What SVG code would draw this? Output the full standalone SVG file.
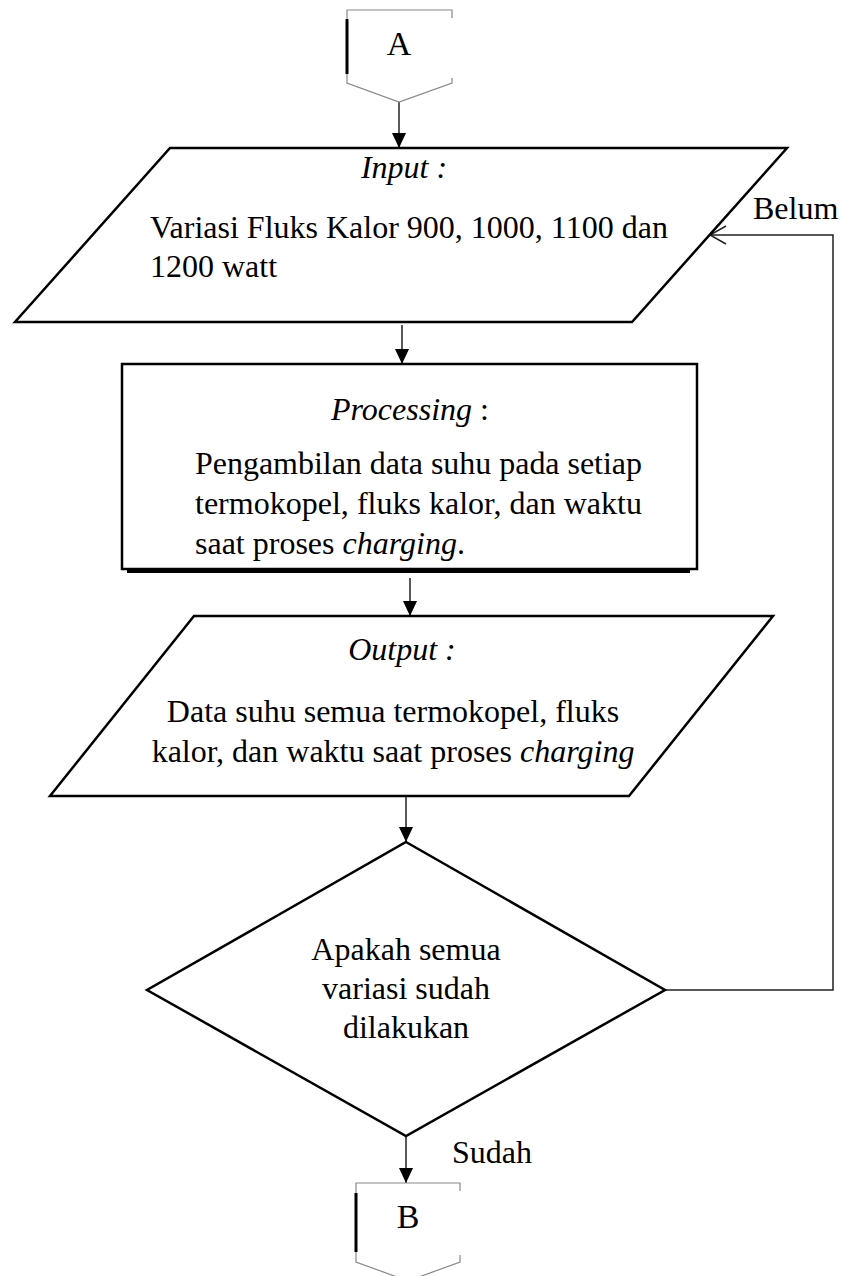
<svg xmlns="http://www.w3.org/2000/svg" width="843" height="1276" viewBox="0 0 843 1276">
<defs>
<style>
.t{font-family:"Liberation Serif","Times New Roman",serif;font-size:32px;fill:#000}
.i{font-style:italic}
.shape{fill:#fff;stroke:#000;stroke-width:2.5}
.conn{fill:none;stroke:#222;stroke-width:1.5}
.gray{fill:none;stroke:#888;stroke-width:1.2}
.thick{stroke:#000;stroke-width:3}
</style>
<marker id="arr" viewBox="0 0 15 14" refX="15" refY="7" markerWidth="15" markerHeight="14" markerUnits="userSpaceOnUse" orient="auto">
<path d="M0,0 L15,7 L0,14 Z" fill="#000"/>
</marker>
<marker id="open" viewBox="0 0 18 20" refX="17" refY="10" markerWidth="18" markerHeight="20" markerUnits="userSpaceOnUse" orient="auto">
<path d="M1,1 L17,10 L1,19" fill="none" stroke="#222" stroke-width="1.5"/>
</marker>
</defs>
<rect width="843" height="1276" fill="#fff"/>

<g id="connectors">
<line class="conn" x1="399" y1="102" x2="399" y2="148" marker-end="url(#arr)"/>
<line class="conn" x1="402" y1="325" x2="402" y2="364" marker-end="url(#arr)"/>
<line class="conn" x1="410" y1="578" x2="410" y2="616" marker-end="url(#arr)"/>
<line class="conn" x1="406" y1="797" x2="406" y2="842" marker-end="url(#arr)"/>
<line class="conn" x1="406" y1="1136" x2="406" y2="1183" marker-end="url(#arr)"/>
<polyline class="conn" points="665,990 833,990 833,235 710,235" marker-end="url(#open)"/>
<text class="t" x="753" y="219">Belum</text>
<text class="t" x="452" y="1163">Sudah</text>
</g>

<g id="nodeA">
<polyline class="gray" points="452,18 452,10 347,10 347,83 399,102 452,83 452,78"/>
<line class="thick" x1="347" y1="19" x2="347" y2="74"/>
<text class="t" x="399" y="55" text-anchor="middle" style="font-size:34px">A</text>
</g>

<g id="input">
<polygon class="shape" points="170,148 787,148 632,322 15,322"/>
<text class="t i" x="404" y="178" text-anchor="middle">Input :</text>
<text class="t" x="150" y="238">Variasi Fluks Kalor 900, 1000, 1100 dan</text>
<text class="t" x="150" y="277">1200 watt</text>
</g>

<g id="process">
<rect class="shape" x="122" y="364" width="575" height="205"/>
<line x1="127" y1="571" x2="690" y2="571" stroke="#000" stroke-width="4"/>
<text class="t" x="410" y="420" text-anchor="middle"><tspan class="i">Processing</tspan> :</text>
<text class="t" x="195" y="474" textLength="447" lengthAdjust="spacing">Pengambilan data suhu pada setiap</text>
<text class="t" x="195" y="514" textLength="447" lengthAdjust="spacing">termokopel, fluks kalor, dan waktu</text>
<text class="t" x="195" y="554">saat proses <tspan class="i">charging</tspan>.</text>
</g>

<g id="output">
<polygon class="shape" points="194,616 773,616 629,796 50,796"/>
<text class="t i" x="402" y="660" text-anchor="middle">Output :</text>
<text class="t" x="393" y="722" text-anchor="middle">Data suhu semua termokopel, fluks</text>
<text class="t" x="393" y="762" text-anchor="middle">kalor, dan waktu saat proses <tspan class="i">charging</tspan></text>
</g>

<g id="decision">
<polygon class="shape" points="406,842 665,990 406,1136 147,990"/>
<text class="t" x="406" y="960" text-anchor="middle">Apakah semua</text>
<text class="t" x="406" y="999" text-anchor="middle">variasi sudah</text>
<text class="t" x="406" y="1038" text-anchor="middle">dilakukan</text>
</g>

<g id="nodeB">
<polyline class="gray" points="460,1191 460,1183 356,1183 356,1262 408,1281 460,1262 460,1255"/>
<line class="thick" x1="356" y1="1193" x2="356" y2="1252"/>
<text class="t" x="408" y="1228" text-anchor="middle" style="font-size:34px">B</text>
</g>
</svg>
